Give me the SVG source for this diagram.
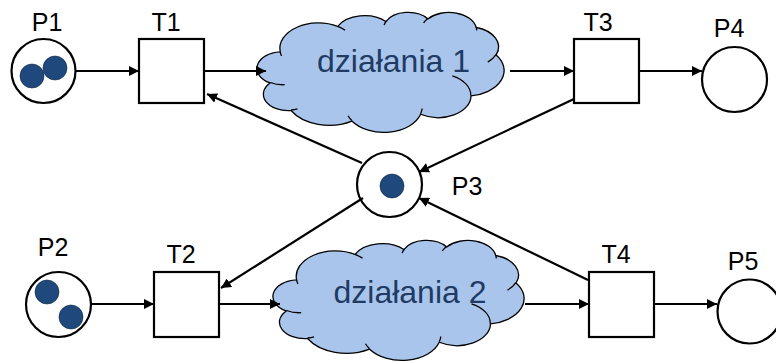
<svg xmlns="http://www.w3.org/2000/svg" xmlns:xlink="http://www.w3.org/1999/xlink" width="776" height="363" viewBox="0 0 776 363">
<style>
.place{fill:#fff;stroke:#000;stroke-width:2.2}
.trans{fill:#fff;stroke:#000;stroke-width:2.2}
.token{fill:#1f497d;stroke:#0d2340;stroke-width:0.6}
.lbl{font-family:"Liberation Sans",Arial,sans-serif;font-size:25px;fill:#000;text-anchor:middle}
.ctext{font-family:"Liberation Sans",Arial,sans-serif;font-size:32px;fill:#1f3b64;text-anchor:middle}
.cloud{fill:#a9c5eb;stroke:#000;stroke-width:1.3}
.fold{fill:none;stroke:#000;stroke-width:1.3}
.edge{fill:none;stroke:#000;stroke-width:2.2}
</style>
<defs>
<marker id="ah" markerUnits="userSpaceOnUse" markerWidth="11" markerHeight="10" refX="10" refY="5" orient="auto">
<path d="M0,0 L10,5 L0,10 Z" fill="#000"/>
</marker>
<path id="cloudBody" vector-effect="non-scaling-stroke" d="M9.028,33.264 A15.632,21.273 0 0 1 32.419,12.042 A12.345,16.822 0 0 1 51.981,7.947 A10.104,13.762 0 0 1 69.060,5.748 A11.243,15.266 0 0 1 88.701,12.910 A12.345,16.836 0 0 1 96.806,35.790 A15.683,21.343 0 0 1 86.584,69.912 A13.391,18.211 0 0 1 66.102,85.215 A15.630,21.331 0 0 1 38.153,90.893 A17.870,24.405 0 0 1 13.442,82.114 A10.093,13.699 0 0 1 4.898,59.148 A10.058,13.762 0 0 1 9.028,33.264 Z"/>
<path id="cloudFolds" vector-effect="non-scaling-stroke" d="M10.863,60.595 A10.058,13.762 0 0 1 5.000,58.750 M16.037,80.785 A10.093,13.699 0 0 1 13.470,81.668 M38.144,90.486 A15.630,21.331 0 0 1 36.595,86.451 M66.729,80.442 A15.630,21.331 0 0 1 66.111,84.861 M79.002,53.134 A13.391,18.211 0 0 1 86.530,69.653 M96.755,35.542 A12.345,16.836 0 0 1 93.400,41.738 M88.713,12.560 A11.243,15.266 0 0 1 88.889,15.484 M67.310,9.148 A11.243,15.266 0 0 1 69.028,5.417 M51.252,10.926 A10.104,13.762 0 0 1 52.083,7.708 M32.407,12.019 A15.632,21.273 0 0 1 35.419,15.144 M9.553,36.549 A15.632,21.273 0 0 1 9.028,33.268"/>
</defs>

<g id="P1">
<circle class="place" cx="43.5" cy="71" r="32"/>
<circle class="token" cx="32" cy="76" r="12"/>
<circle class="token" cx="55" cy="68" r="12"/>
<text class="lbl" x="47" y="31">P1</text>
</g>
<g id="T1">
<rect class="trans" x="139" y="39" width="65" height="64"/>
<text class="lbl" x="166" y="31">T1</text>
</g>
<g id="cloud1">
<use xlink:href="#cloudBody" class="cloud" transform="translate(258,12) scale(2.46,1.2)"/>
<use xlink:href="#cloudFolds" class="fold" transform="translate(258,12) scale(2.46,1.2)"/>
<text class="ctext" x="393.5" y="72">działania 1</text>
</g>
<g id="T3">
<rect class="trans" x="574" y="39" width="65" height="64"/>
<text class="lbl" x="598" y="31">T3</text>
</g>
<g id="P4">
<circle class="place" cx="734.5" cy="79.5" r="32.5"/>
<text class="lbl" x="729" y="37">P4</text>
</g>
<g id="P3">
<circle class="place" cx="389.5" cy="184.5" r="32.5"/>
<circle class="token" cx="392" cy="186" r="12"/>
<text class="lbl" x="467" y="195">P3</text>
</g>
<g id="P2">
<circle class="place" cx="58.5" cy="304.5" r="32.5"/>
<circle class="token" cx="47" cy="292" r="12"/>
<circle class="token" cx="71" cy="317" r="12"/>
<text class="lbl" x="53" y="256">P2</text>
</g>
<g id="T2">
<rect class="trans" x="154" y="272" width="65" height="65"/>
<text class="lbl" x="181" y="263">T2</text>
</g>
<g id="cloud2">
<use xlink:href="#cloudBody" class="cloud" transform="translate(274,240) scale(2.5,1.2)"/>
<use xlink:href="#cloudFolds" class="fold" transform="translate(274,240) scale(2.5,1.2)"/>
<text class="ctext" x="410" y="303">działania 2</text>
</g>
<g id="T4">
<rect class="trans" x="589" y="272" width="65" height="65"/>
<text class="lbl" x="616" y="263">T4</text>
</g>
<g id="P5">
<circle class="place" cx="749.5" cy="311.5" r="32"/>
<text class="lbl" x="743" y="270">P5</text>
</g>

<g id="connectors">
<line class="edge" x1="76" y1="71" x2="139" y2="71" marker-end="url(#ah)"/>
<line class="edge" x1="204" y1="71" x2="266" y2="71" marker-end="url(#ah)"/>
<line class="edge" x1="510" y1="71" x2="574" y2="71" marker-end="url(#ah)"/>
<line class="edge" x1="639" y1="71" x2="702" y2="71" marker-end="url(#ah)"/>
<line class="edge" x1="362" y1="163" x2="207" y2="94" marker-end="url(#ah)"/>
<line class="edge" x1="574" y1="99" x2="419" y2="172" marker-end="url(#ah)"/>
<line class="edge" x1="363" y1="198" x2="221" y2="288" marker-end="url(#ah)"/>
<line class="edge" x1="588" y1="280" x2="419" y2="198" marker-end="url(#ah)"/>
<line class="edge" x1="91" y1="304" x2="154" y2="304" marker-end="url(#ah)"/>
<line class="edge" x1="219" y1="304" x2="280" y2="304" marker-end="url(#ah)"/>
<line class="edge" x1="525" y1="304" x2="589" y2="304" marker-end="url(#ah)"/>
<line class="edge" x1="654" y1="304" x2="717" y2="304" marker-end="url(#ah)"/>
</g>
</svg>
